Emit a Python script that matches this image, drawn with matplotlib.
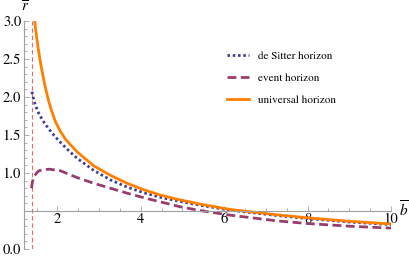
import numpy as np
import matplotlib
matplotlib.use("Agg")
import matplotlib.pyplot as plt

plt.rcParams['font.family'] = ['STIXGeneral', 'DejaVu Serif']
plt.rcParams['mathtext.fontset'] = 'stix'

# values
b_ds = [1.39, 1.43, 1.47, 1.55, 1.65, 1.80, 1.96, 2.07, 2.28, 2.47, 2.87, 3.27, 3.67,
        4.07, 4.47, 4.95, 5.43, 6.15, 7.27, 8.0, 9.0, 10.0]
r_ds = [2.07, 1.97, 1.895, 1.79, 1.69, 1.575, 1.47, 1.405, 1.29, 1.195, 1.035, 0.91, 0.815,
        0.74, 0.68, 0.625, 0.575, 0.51, 0.44, 0.40, 0.355, 0.32]

b_eh = [1.38, 1.40, 1.44, 1.50, 1.56, 1.68, 1.80, 1.95, 2.07, 2.47, 2.87, 3.27, 3.67,
        4.07, 4.95, 5.43, 6.15, 7.27, 8.0, 9.0, 10.0]
r_eh = [0.80, 0.88, 0.95, 1.00, 1.03, 1.045, 1.05, 1.04, 1.03, 0.94, 0.865, 0.80, 0.735,
        0.675, 0.555, 0.505, 0.445, 0.37, 0.335, 0.30, 0.275]

b_uh = [1.456, 1.50, 1.54, 1.59, 1.65, 1.71, 1.79, 1.86, 1.95, 2.07, 2.20, 2.47, 2.87,
        3.27, 3.67, 4.07, 4.47, 4.87, 5.43, 6.15, 7.27, 8.0, 9.0, 10.0]
r_uh = [3.00, 2.80, 2.64, 2.47, 2.29, 2.13, 1.95, 1.82, 1.68, 1.55, 1.44, 1.28, 1.095,
        0.97, 0.865, 0.78, 0.71, 0.655, 0.59, 0.52, 0.45, 0.41, 0.365, 0.33]

b_crit = 1.39

fig = plt.figure(figsize=(4.09, 2.59), dpi=100)
ax = fig.add_axes([24/409, 1-249/259, 367/409, 228/259])

ax.axvline(b_crit, color='#e86a6a', lw=0.8, ls=(0, (4, 2.5)))
ax.plot(b_ds, r_ds, color='#3d3d99', lw=2.0, ls=(0, (0.9, 1.0)), label='de Sitter horizon')
ax.plot(b_eh, r_eh, color='#993d71', lw=2.0, ls=(0, (3.2, 1.6)), label='event horizon')
ax.plot(b_uh, r_uh, color='#ff8000', lw=2.0, label='universal horizon')

ax.set_xlim(1.2, 10)
ax.set_ylim(0, 3)

for s in ['top', 'right']:
    ax.spines[s].set_visible(False)
ax.spines['bottom'].set_position(('data', 0.5))
for s in ['bottom', 'left']:
    ax.spines[s].set_color('#a0a0a0')
    ax.spines[s].set_linewidth(0.8)

ax.set_xticks([2, 4, 6, 8, 10])
ax.set_xticks(np.arange(1.5, 10.01, 0.5), minor=True)
ax.set_yticks([0.0, 1.0, 1.5, 2.0, 2.5, 3.0])
ax.set_yticklabels(['0.0', '1.0', '1.5', '2.0', '2.5', '3.0'])
ax.set_yticks(np.arange(0, 3.01, 0.1), minor=True)
ax.tick_params(which='both', direction='in', color='#a0a0a0', width=0.6, labelsize=10.5, pad=2)
ax.tick_params(which='major', length=3.5)
ax.tick_params(which='minor', length=2)
ax.tick_params(axis='x', pad=1)

fig.text(25/409, 1-7/259, r'$\overline{r}$', fontsize=11, ha='center', va='center')
fig.text(404/409, 1-210/259, r'$\overline{b}$', fontsize=11, ha='center', va='center')

ax.legend(loc='upper left', bbox_to_anchor=(227/409, 1-51/259), bbox_transform=fig.transFigure,
          frameon=False, fontsize=8, handlelength=2.0, handletextpad=0.75,
          labelspacing=1.1, borderpad=0, borderaxespad=0)

fig.savefig('out.png', dpi=100)
